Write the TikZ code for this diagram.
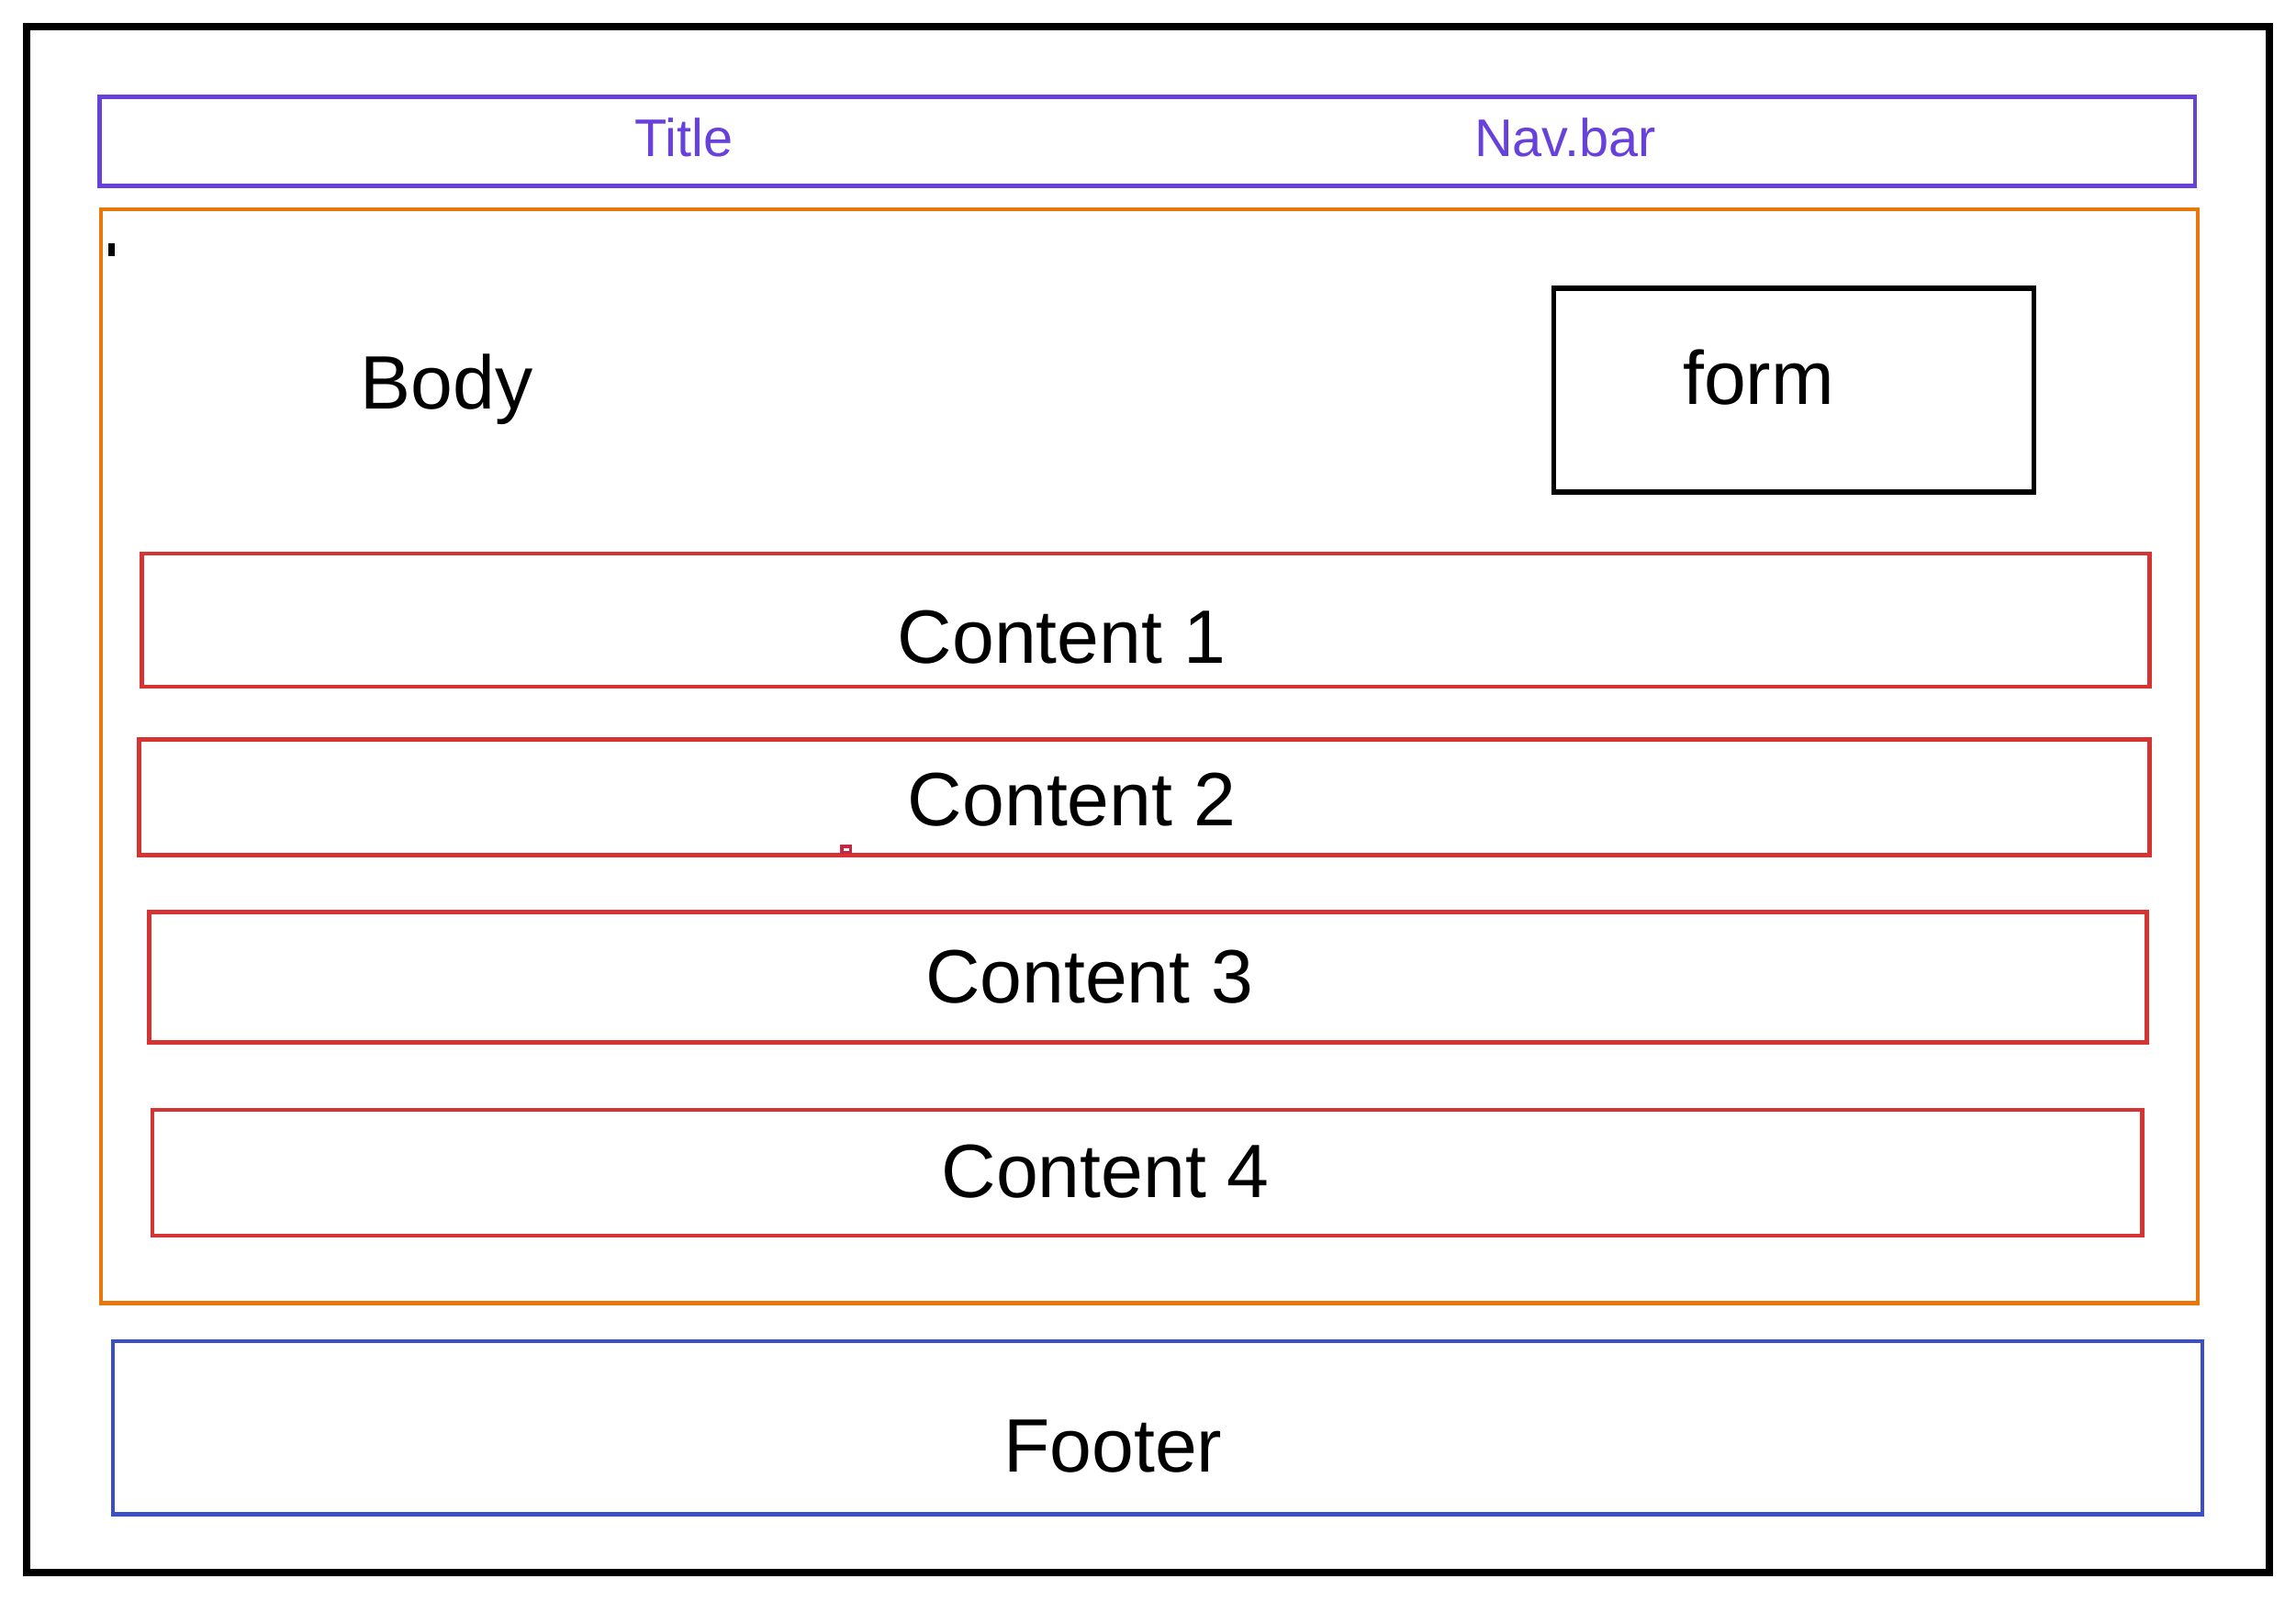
\documentclass[tikz,border=0pt]{standalone}
\usepackage{fontspec}
\setmainfont{Liberation Sans}
\usepackage{xcolor}
\definecolor{navcol}{HTML}{6741D9}
\definecolor{bodycol}{HTML}{E8770C}
\definecolor{contcol}{HTML}{D63333}
\definecolor{footcol}{HTML}{3B4FC8}
\tikzset{
	grande/.style={anchor=base,inner sep=0pt,font=\fontsize{14.7}{17}\selectfont},
	chico/.style={anchor=base,inner sep=0pt,navcol,font=\fontsize{10.3}{12}\selectfont}
}

\begin{document}
\begin{tikzpicture}[x=0.1mm,y=-0.1mm]
		\useasboundingbox (0,0) rectangle (1568,1093);
		% marco de la pagina
		\draw[line width=1.4pt] (18,18) rectangle (1550,1074);
		% cabecera
		\draw[navcol,line width=0.8pt] (68,66) rectangle (1499,127);
		\node[chico] (title) at (467,107) {Title};
		\node[chico] (navbar) at (1069,107) {Nav.bar};
		% cuerpo
		\draw[bodycol,line width=0.8pt] (69,143) rectangle (1501,890);
		\draw[line width=1.2pt] (76,166) -- (76,175);
		\node[grande] (body) at (305,279) {Body};
		\draw[line width=1pt] (1061,197) rectangle (1389,336);
		\node[grande] (form) at (1201,276) {form};
		% contenidos
		\foreach \Xa/\Ya/\Xb/\Yb/\Xc/\Yc/\Texto [count=\i] in 
		{97/378/1468/469/725/453/Content 1,
		 95/505/1468/584/732/564/Content 2,
		 102/623/1466/712/744/685/Content 3,
		 104/758/1463/844/755/818/Content 4}
		{
			\draw[contcol,line width=0.8pt] (\Xa,\Ya) rectangle (\Xb,\Yb);
			\node[grande] (cont\i) at (\Xc,\Yc) {\Texto};
		}
		\draw[contcol!80!violet,line width=0.6pt] (575,578) rectangle (581,582);
		% pie
		\draw[footcol,line width=0.8pt] (77,916) rectangle (1504,1034);
		\node[grande] (footer) at (760,1005) {Footer};
\end{tikzpicture}
\end{document}
